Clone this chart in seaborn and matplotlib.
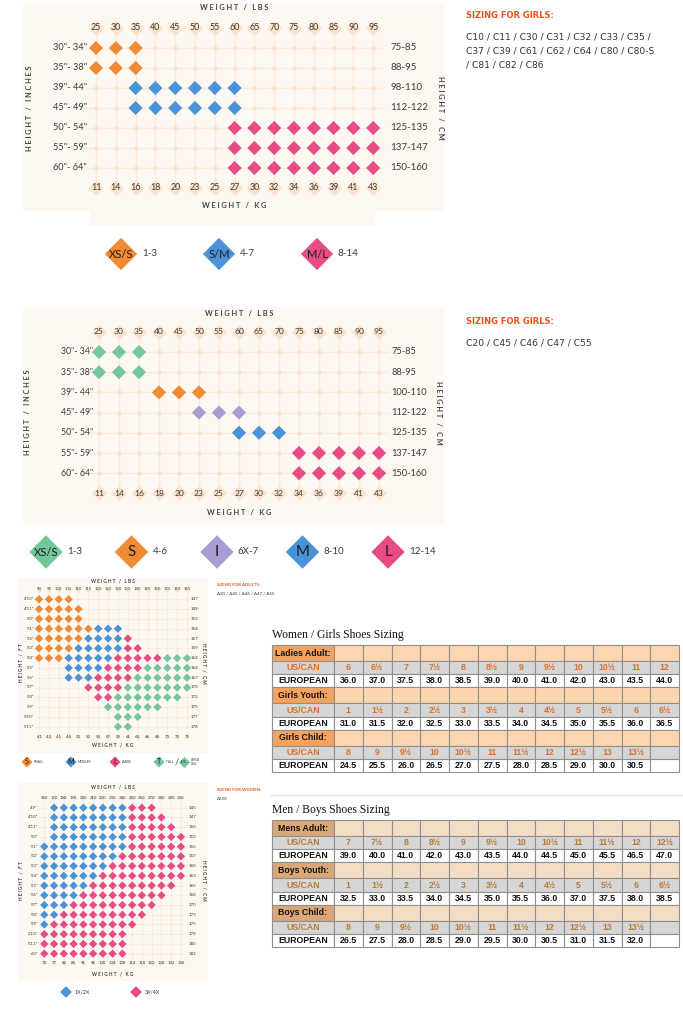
import pandas as pd
import matplotlib.pyplot as plt
from matplotlib.patches import Rectangle
import seaborn as sns

sns.set_theme(style="white")
plt.rcParams['font.family'] = ['Lato', 'DejaVu Sans']

W, H = 683, 1024
fig = plt.figure(figsize=(W / 100, H / 100), dpi=100)

orange, blue, pink = '#f08a33', '#4a93d8', '#e74c85'
green, purple = '#74c69d', '#a99cd3'
peach, panel, faint = '#fde3cb', '#fef8f3', '#fcebdd'
ink, red = '#3a3a3a', '#e8531d'
narrow = ['Liberation Sans', 'DejaVu Sans']

# ---------------- kids charts ----------------
kid_lbs = [25, 30, 35, 40, 45, 50, 55, 60, 65, 70, 75, 80, 85, 90, 95]
kid_kg = [11, 14, 16, 18, 20, 23, 25, 27, 30, 32, 34, 36, 39, 41, 43]
kid_in = ['30"- 34"', '35"- 38"', '39"- 44"', '45"- 49"', '50"- 54"', '55"- 59"', '60"- 64"']
c1_cm = ['75-85', '88-95', '98-110', '112-122', '125-135', '137-147', '150-160']
c2_cm = ['75-85', '88-95', '100-110', '112-122', '125-135', '137-147', '150-160']

c1_cells = ['XXX............',
            'XXX............',
            '..SSSSSS.......',
            '..SSSSSS.......',
            '.......MMMMMMMM',
            '.......MMMMMMMM',
            '.......MMMMMMMM']
c1_codes = {'X': 'XS/S', 'S': 'S/M', 'M': 'M/L'}
c1_ages = ['1-3', '4-7', '8-14']
c1_colors = {'XS/S': orange, 'S/M': blue, 'M/L': pink}

c2_cells = ['XXX............',
            'XXX............',
            '...SSS.........',
            '.....III.......',
            '.......MMM.....',
            '..........LLLLL',
            '..........LLLLL']
c2_codes = {'X': 'XS/S', 'S': 'S', 'I': 'I', 'M': 'M', 'L': 'L'}
c2_ages = ['1-3', '4-6', '6X-7', '8-10', '12-14']
c2_colors = {'XS/S': green, 'S': orange, 'I': purple, 'M': blue, 'L': pink}

# ---------------- adult charts ----------------
ad_lbs = [90, 95, 100, 105, 110, 115, 120, 125, 130, 135, 140, 145, 150, 155, 160, 165]
ad_kg = [41, 43, 45, 48, 50, 52, 54, 57, 59, 61, 64, 66, 68, 70, 73, 75]
ad_ft = ["4'10\"", "4'11\"", "5'0\"", "5'1\"", "5'2\"", "5'3\"", "5'4\"",
         "5'5\"", "5'6\"", "5'7\"", "5'8\"", "5'9\"", "5'10\"", "5'11\""]
ad_cm = [147, 149, 152, 154, 157, 159, 162, 164, 167, 170, 172, 175, 177, 178]
ad_cells = ['OOOO............',
            'OOOOO...........',
            'OOOOO...........',
            'OOOOOOBBB.......',
            'OOOOOBBBBP......',
            'OOOOBBBBBPP.....',
            'OOOBBBBBPPPPPGGG',
            '...BBBBPPPPGGGGG',
            '...BBBPPPPGGGGGG',
            '.....PPPPGGGGGGG',
            '......PPGGGGGGG.',
            '.......GGGGGG...',
            '........GGG.....',
            '........GG......']
ad_codes = {'O': 'S', 'B': 'M', 'P': 'L', 'G': 'T'}
ad_names = ['SMALL', 'MEDIUM', 'LARGE', 'TALL']
ad_colors = {'S': orange, 'M': blue, 'L': pink, 'T': green, 'L/L': green}

pl_lbs = [160, 170, 180, 190, 200, 210, 220, 230, 240, 250, 260, 270, 280, 290, 300]
pl_kg = [73, 77, 82, 86, 91, 96, 100, 104, 108, 114, 118, 122, 128, 132, 136]
pl_ft = ["4'9\"", "4'10\"", "4'11\"", "5'0\"", "5'1\"", "5'2\"", "5'3\"", "5'4\"",
         "5'5\"", "5'6\"", "5'7\"", "5'8\"", "5'9\"", "5'10\"", "5'11\"", "6'0\""]
pl_cm = [145, 147, 150, 152, 155, 157, 160, 163, 165, 168, 170, 173, 175, 178, 180, 182]
pl_cells = ['.AAAAAAAABBB...',
            '.AAAAAAAABBBB..',
            '.AAAAAAAABBBBB.',
            '.AAAAAAAABBBBBB',
            'AAAAAAAAABBBBBB',
            'AAAAAAAABBBBBBB',
            'AAAAAAABBBBBBBB',
            'AAAAAABBBBBBBBB',
            'AAAAABBBBBBBBB.',
            'AAAABBBBBBBBB..',
            'AAABBBBBBBBB...',
            'AABBBBBBBBB....',
            'ABBBBBBBBB.....',
            'BBBBBBBBB......',
            'BBBBBBBBB......',
            'BBBBBBBBB......']
pl_codes = {'A': '1X/2X', 'B': '3X/4X'}
pl_colors = {'1X/2X': blue, '3X/4X': pink}

# ---------------- shoe tables ----------------
la_us = ['6', '6½', '7', '7½', '8', '8½', '9', '9½', '10', '10½', '11', '12']
la_eu = ['36.0', '37.0', '37.5', '38.0', '38.5', '39.0', '40.0', '41.0', '42.0', '43.0', '43.5', '44.0']
gy_us = ['1', '1½', '2', '2½', '3', '3½', '4', '4½', '5', '5½', '6', '6½']
gy_eu = ['31.0', '31.5', '32.0', '32.5', '33.0', '33.5', '34.0', '34.5', '35.0', '35.5', '36.0', '36.5']
gc_us = ['8', '9', '9½', '10', '10½', '11', '11½', '12', '12½', '13', '13½']
gc_eu = ['24.5', '25.5', '26.0', '26.5', '27.0', '27.5', '28.0', '28.5', '29.0', '30.0', '30.5']
ma_us = ['7', '7½', '8', '8½', '9', '9½', '10', '10½', '11', '11½', '12', '12½']
ma_eu = ['39.0', '40.0', '41.0', '42.0', '43.0', '43.5', '44.0', '44.5', '45.0', '45.5', '46.5', '47.0']
by_us = ['1', '1½', '2', '2½', '3', '3½', '4', '4½', '5', '5½', '6', '6½']
by_eu = ['32.5', '33.0', '33.5', '34.0', '34.5', '35.0', '35.5', '36.0', '37.0', '37.5', '38.0', '38.5']
bc_us = ['8', '9', '9½', '10', '10½', '11', '11½', '12', '12½', '13', '13½']
bc_eu = ['26.5', '27.5', '28.0', '28.5', '29.0', '29.5', '30.0', '30.5', '31.0', '31.5', '32.0']


def spaced(s, gap=' '):
    return gap.join(s)


def px_axes(box, origin, step):
    # axes over a pixel box, data units = grid cells
    l, t, r, b = box
    ax = fig.add_axes([l / W, 1 - b / H, (r - l) / W, (b - t) / H])
    ax.set_xlim((l - origin[0]) / step[0], (r - origin[0]) / step[0])
    ax.set_ylim((b - origin[1]) / step[1], (t - origin[1]) / step[1])
    ax.set_axis_off()
    return ax


def draw_grid(ax, cells, codes, colors, top, bottom, left, right, s_dot, s_node, s_tick,
              fs, fs_l, fs_r, lx, rx, lw):
    nr, nc = len(cells), len(cells[0])
    df = pd.DataFrame([(c, r, codes.get(ch, '')) for r, row in enumerate(cells)
                       for c, ch in enumerate(row)], columns=['col', 'row', 'size'])
    ax.hlines(range(nr), -0.5, nc - 0.5, color=faint, lw=lw, zorder=0)
    ax.vlines(range(nc), -1, nr, color=faint, lw=lw, zorder=0)
    ticks = pd.DataFrame({'col': list(range(nc)) * 2, 'row': [-1] * nc + [nr] * nc})
    sns.scatterplot(data=ticks, x='col', y='row', marker='D', s=s_tick, color=peach,
                    linewidth=0, ax=ax, zorder=1)
    sns.scatterplot(data=df, x='col', y='row', marker='D', s=s_node, color=peach,
                    linewidth=0, ax=ax, zorder=1)
    on = df[df['size'] != '']
    sns.scatterplot(data=on, x='col', y='row', hue='size', palette=colors, marker='D',
                    s=s_dot, linewidth=0, legend=False, ax=ax, zorder=3)
    for c in range(nc):
        ax.text(c, -1, str(top[c]), ha='center', va='center', fontsize=fs, color=ink, zorder=4)
        ax.text(c, nr, str(bottom[c]), ha='center', va='center', fontsize=fs, color=ink, zorder=4)
    for r in range(nr):
        ax.text(lx, r, left[r], ha='right', va='center', fontsize=fs_l, color=ink)
        ax.text(rx, r, str(right[r]), ha='left', va='center', fontsize=fs_r, color=ink)
    ax.set_axis_off()


def titles(ax, xc, y_top, y_bot, x_left, x_right, yc, fs, vert):
    kw = dict(ha='center', va='center', fontsize=fs, color='#444444', fontweight='bold')
    ax.text(xc, y_top, spaced('WEIGHT / LBS'), **kw)
    ax.text(xc, y_bot, spaced('WEIGHT / KG'), **kw)
    ax.text(x_left, yc, spaced('HEIGHT / ' + vert), rotation=90, **kw)
    ax.text(x_right, yc, spaced('HEIGHT / CM'), rotation=270, **kw)


def draw_legend(box, origin, step, names, labels, colors, s, fs_in, fs_out, dx):
    ax = px_axes(box, origin, (step, 1))
    df = pd.DataFrame({'x': range(len(names)), 'y': 0, 'size': names})
    sns.scatterplot(data=df, x='x', y='y', hue='size', palette=colors, marker='D', s=s,
                    linewidth=0, legend=False, ax=ax)
    for i, (n, a) in enumerate(zip(names, labels)):
        ax.text(i, 0, n, ha='center', va='center', color='#1e1e1e',
                fontsize=fs_in * (1.35 if len(n) == 1 else 1))
        ax.text(i + dx / step, 0, a, ha='left', va='center', fontsize=fs_out, color=ink)
    ax.set_axis_off()
    return ax


# ---------------- background ----------------
bg = fig.add_axes([0, 0, 1, 1], zorder=-1)
bg.set_xlim(0, W)
bg.set_ylim(H, 0)
bg.set_axis_off()
for l, t, r, b in [(23, 3, 445, 211), (90, 211, 375, 226), (23, 307, 445, 525),
                   (18, 578, 208, 753), (18, 783, 208, 981)]:
    bg.add_patch(Rectangle((l, t), r - l, b - t, color=panel, lw=0))
bg.plot([270, 683], [795, 795], color='#e2e2e2', lw=0.8)

# ---------------- chart 1 ----------------
ax1 = px_axes((0, 0, 460, 230), (96, 48), (19.8, 20))
draw_grid(ax1, c1_cells, c1_codes, c1_colors, kid_lbs, kid_kg, kid_in, c1_cm,
          52, 9, 60, 6.4, 6.6, 7.0, -0.45, 14.85, 1.0)
titles(ax1, 7, -2.05, 7.9, -3.38, 17.4, 3, 5.3, 'INCHES')
draw_legend((0, 232, 460, 276), (121, 254), 98, list(c1_colors), c1_ages, c1_colors,
            270, 8, 7, 21)

bg.text(466, 16, 'SIZING FOR GIRLS:', fontsize=6, fontweight='bold', color=red,
        va='center', family='DejaVu Sans')
for i, line in enumerate(['C10 / C11 / C30 / C31 / C32 / C33 / C35 /',
                          'C37 / C39 / C61 / C62 / C64 / C80 / C80-S',
                          '/ C81 / C82 / C86']):
    bg.text(466, 37 + 14 * i, line, fontsize=6.6, color='#333333', va='center',
            family='DejaVu Sans')

# ---------------- chart 2 ----------------
ax2 = px_axes((0, 300, 460, 532), (99, 352), (20, 20.2))
draw_grid(ax2, c2_cells, c2_codes, c2_colors, kid_lbs, kid_kg, kid_in, c2_cm,
          52, 9, 60, 6.1, 6.3, 6.7, -0.3, 14.6, 1.0)
titles(ax2, 7, -1.9, 7.95, -3.55, 17.0, 3, 5.3, 'INCHES')
draw_legend((0, 530, 460, 576), (46, 552), 85.5, list(c2_colors), c2_ages, c2_colors,
            290, 8, 7, 21)

bg.text(466, 322, 'SIZING FOR GIRLS:', fontsize=6, fontweight='bold', color=red,
        va='center', family='DejaVu Sans')
bg.text(466, 343, 'C20 / C45 / C46 / C47 / C55', fontsize=6.6, color='#333333',
        va='center', family='DejaVu Sans')

# ---------------- chart 3 ----------------
ax3 = px_axes((0, 575, 215, 756), (39, 599.3), (9.87, 9.8))
draw_grid(ax3, ad_cells, ad_codes, ad_colors, ad_lbs, ad_kg, ad_ft, ad_cm,
          18, 2, 6, 3.1, 3.2, 3.2, -0.5, 15.4, 0.5)
titles(ax3, 7.5, -1.87, 14.9, -1.8, 16.7, 6.5, 3.4, 'FT')
lg3 = draw_legend((0, 752, 215, 772), (27, 762), 44, list(ad_codes.values()), ad_names,
                  ad_colors, 32, 3.8, 2.3, 7)
lg3.text(3 + 18 / 44, 0, '/', ha='center', va='center', fontsize=7, color='#555555')
sns.scatterplot(x=[3 + 25 / 44], y=[0], marker='D', s=32, color=green, linewidth=0, ax=lg3)
lg3.text(3 + 25 / 44, 0, 'L/L', ha='center', va='center', fontsize=3.2, color='#1e1e1e')
lg3.text(3 + 32 / 44, 0, 'LARGE\nTALL', ha='left', va='center', fontsize=2.2,
         color=ink, linespacing=0.9)
lg3.set_axis_off()

bg.text(217, 585, 'SIZING FOR ADULTS:', fontsize=3.2, fontweight='bold', color=red, va='center')
bg.text(217, 594, 'A20 / A45 / A46 / A47 / A55', fontsize=3.2, color='#333333', va='center')

# ---------------- chart 4 ----------------
ax4 = px_axes((0, 780, 215, 985), (44.3, 807.7), (9.76, 9.73))
draw_grid(ax4, pl_cells, pl_codes, pl_colors, pl_lbs, pl_kg, pl_ft, pl_cm,
          18, 2, 6, 3.1, 3.2, 3.2, -0.65, 14.8, 0.5)
titles(ax4, 7, -2.1, 17.1, -2.4, 16.4, 7.5, 3.4, 'FT')
lg4 = px_axes((0, 982, 215, 1002), (66, 992), (70, 1))
leg4 = pd.DataFrame({'x': range(2), 'y': 0, 'size': list(pl_colors)})
sns.scatterplot(data=leg4, x='x', y='y', hue='size', palette=pl_colors, marker='D', s=36,
                linewidth=0, legend=False, ax=lg4)
for i, n in enumerate(pl_colors):
    lg4.text(i + 9 / 70, 0, n, ha='left', va='center', fontsize=3.8, color=ink)
lg4.set_axis_off()

bg.text(217, 790, 'SIZING FOR WOMEN:', fontsize=3.2, fontweight='bold', color=red, va='center')
bg.text(217, 799, 'A55X', fontsize=3.2, color='#333333', va='center')


# ---------------- shoe tables ----------------
def draw_table(box, title, groups, dark, light, us_col):
    l, t, r, b = box
    bg.text(l, t - 10, title, fontsize=8.4, family='Liberation Serif', color='#111111',
            va='center')
    ax = fig.add_axes([l / W, 1 - b / H, (r - l) / W, (b - t) / H])
    ax.set_axis_off()
    text, colours, kinds = [], [], []
    for name, us, eu in groups:
        text += [[name + ':'] + [''] * 12,
                 ['US/CAN'] + us + [''] * (12 - len(us)),
                 ['EUROPEAN'] + eu + [''] * (12 - len(eu))]
        colours += [[dark] + [light] * 12, ['#d6d6d6'] * 13, ['#ffffff'] * 13]
        kinds += ['head', 'us', 'eu']
    tab = ax.table(cellText=text, cellColours=colours, colWidths=[62] + [28.75] * 12,
                   cellLoc='center', bbox=[0, 0, 1, 1])
    tab.auto_set_font_size(False)
    for (i, j), cell in tab.get_celld().items():
        cell.set_edgecolor('#8f8f8f')
        cell.set_linewidth(0.8)
        cell.set_height(16 if kinds[i] == 'head' else 13)
        cell.get_text().set(fontsize=6.3, fontweight='bold', family=narrow,
                            color=us_col if kinds[i] == 'us' else '#111111')


draw_table((272, 645, 679, 772), 'Women / Girls Shoes Sizing',
           [('Ladies Adult', la_us, la_eu), ('Girls Youth', gy_us, gy_eu),
            ('Girls Child', gc_us, gc_eu)],
           '#f5a35e', '#fdd6b0', '#d8712b')
draw_table((272, 820, 679, 947), 'Men / Boys Shoes Sizing',
           [('Mens Adult', ma_us, ma_eu), ('Boys Youth', by_us, by_eu),
            ('Boys Child', bc_us, bc_eu)],
           '#dba776', '#f4ddc5', '#b97a35')

fig.savefig('out.png', dpi=100)
